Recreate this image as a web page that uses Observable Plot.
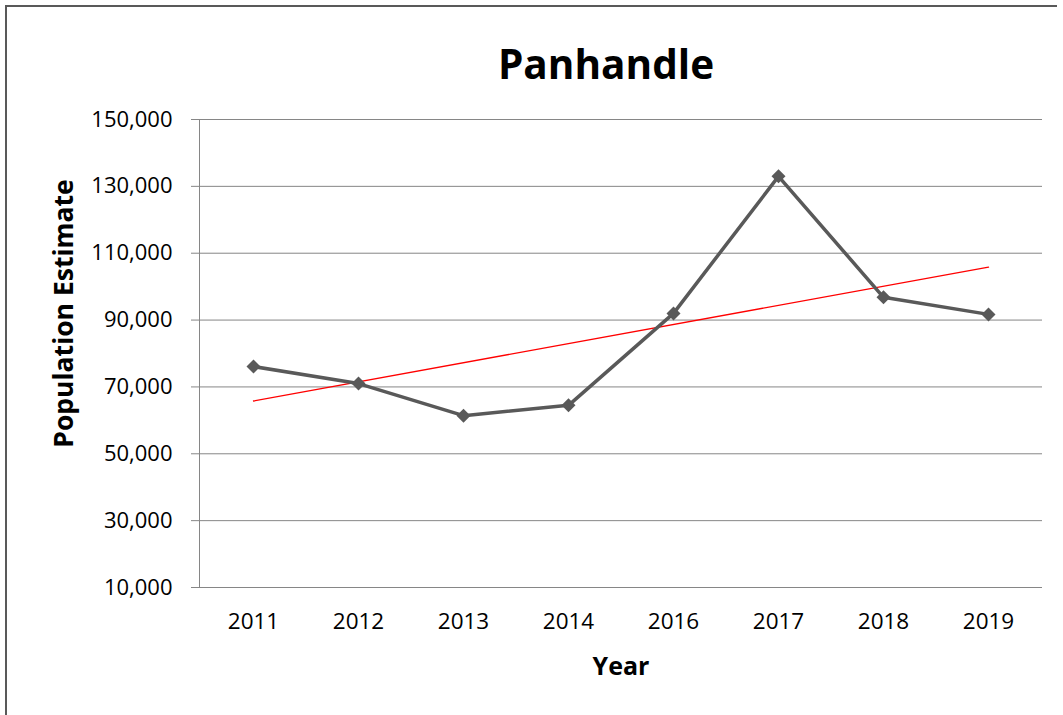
<!DOCTYPE html>
<html>
<head>
<meta charset="utf-8">
<script src="https://cdn.jsdelivr.net/npm/d3@7"></script>
<script src="https://cdn.jsdelivr.net/npm/@observablehq/plot@0.6"></script>
<style>
  html, body { margin: 0; padding: 0; background: white; }
  #wrap { position: relative; width: 1063px; height: 715px; overflow: hidden; }
  #border { position: absolute; left: 5px; top: 5px; width: 1050px; height: 730px;
            border-left: 2px solid #595959; border-top: 2px solid #595959; pointer-events: none; }
  #chart { position: absolute; left: 0; top: 0; }
</style>
</head>
<body>
<div id="wrap"><div id="chart"></div><div id="border"></div></div>
<script>
const title = "Panhandle";
const xTitle = "Year";
const yTitle = "Population Estimate";
const years = ["2011", "2012", "2013", "2014", "2016", "2017", "2018", "2019"];
const population = [76100, 71000, 61400, 64500, 92000, 133000, 96800, 91700];
const yTicks = [10000, 30000, 50000, 70000, 90000, 110000, 130000, 150000];
const yDomain = [10000, 150000];

const data = years.map((year, i) => ({year, value: population[i]}));

// linear trendline (least squares over category index), like Excel's
const n = population.length;
const mx = d3.mean(d3.range(n));
const my = d3.mean(population);
const slope = d3.sum(d3.range(n), i => (i - mx) * (population[i] - my)) / d3.sum(d3.range(n), i => (i - mx) ** 2);
const intercept = my - slope * mx;
const trend = [0, n - 1].map(i => ({year: years[i], value: intercept + slope * i}));

const font = "'Open Sans', 'DejaVu Sans', sans-serif";

const chart = Plot.plot({
  width: 1063,
  height: 715,
  marginLeft: 199,
  marginRight: 21,
  marginTop: 119,
  marginBottom: 128,
  style: {fontFamily: font, fontSize: "22px", color: "black", background: "white", overflow: "visible"},
  x: {type: "point", domain: years, padding: 0.5, label: null},
  y: {domain: yDomain, label: null},
  marks: [
    Plot.gridY(yTicks, {stroke: "#868686", strokeOpacity: 1, strokeWidth: 1}),
    Plot.frame({anchor: "left", stroke: "#868686", strokeWidth: 1}),
    Plot.axisY(yTicks, {tickFormat: d3.format(","), tickSize: 8, tickPadding: 19, stroke: "#868686", fill: "black", label: null, fontSize: 22}),
    Plot.axisX({tickSize: 0, tickPadding: 26, fill: "black", label: null, fontSize: 22.5}),
    Plot.line(trend, {x: "year", y: "value", stroke: "#ff0000", strokeWidth: 1.3}),
    Plot.line(data, {x: "year", y: "value", stroke: "#595959", strokeWidth: 3.5}),
    Plot.dot(data, {x: "year", y: "value", symbol: "diamond2", r: 6.3, fill: "#595959", stroke: "none"}),
    Plot.text([title], {frameAnchor: "top", textAnchor: "middle", lineAnchor: "middle", dx: -15, dy: -53, text: d => d, fontSize: 40.5, fontWeight: "bold", fill: "black"}),
    Plot.text([xTitle], {frameAnchor: "bottom", textAnchor: "middle", lineAnchor: "middle", dx: 0, dy: 79, text: d => d, fontSize: 25, fontWeight: "bold", fill: "black"}),
    Plot.text([yTitle], {frameAnchor: "left", textAnchor: "middle", lineAnchor: "middle", dx: -135, dy: -40, rotate: -90, text: d => d, fontSize: 26.5, fontWeight: "bold", fill: "black"})
  ]
});
document.getElementById("chart").appendChild(chart);
</script>
</body>
</html>
